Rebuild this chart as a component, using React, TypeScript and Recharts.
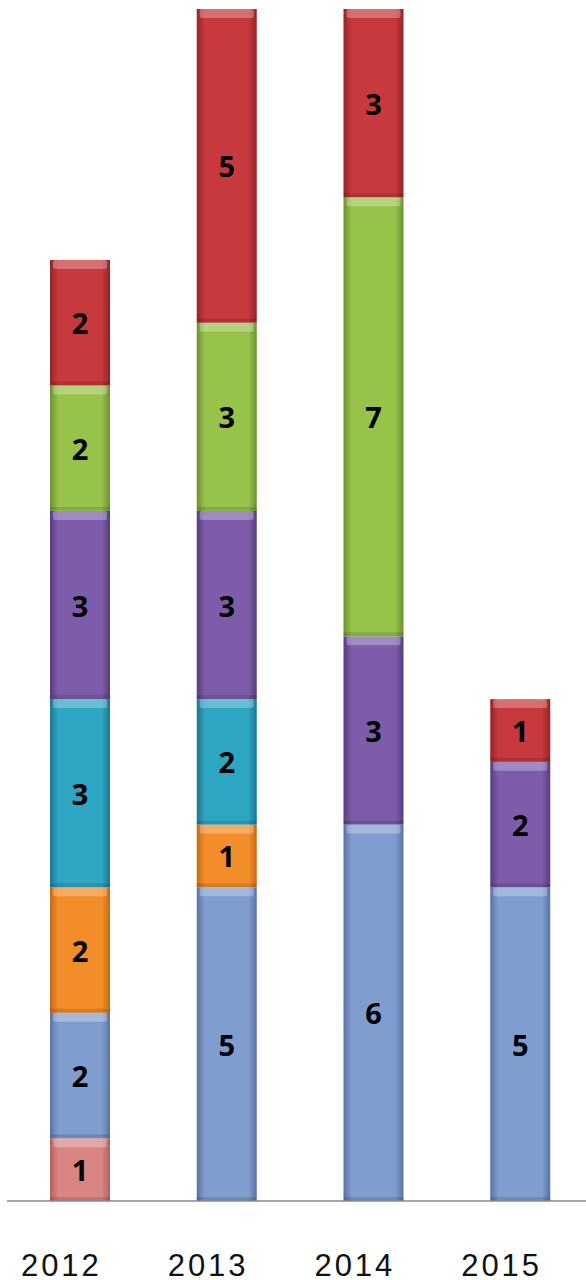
import { BarChart, Bar, XAxis, YAxis, LabelList } from "recharts";

const years = ["2012", "2013", "2014", "2015"];
const pinkValues = [1, null, null, null];
const blueValues = [2, 5, 6, 5];
const orangeValues = [2, 1, null, null];
const tealValues = [3, 2, null, null];
const purpleValues = [3, 3, 3, 2];
const greenValues = [2, 3, 7, null];
const redValues = [2, 5, 3, 1];

const series = [
  { key: "pink", base: "#d98583", dark: "#b5605f" },
  { key: "blue", base: "#809dd0", dark: "#5a73a3" },
  { key: "orange", base: "#f38d2a", dark: "#c86a14" },
  { key: "teal", base: "#2fa5c4", dark: "#1d7791" },
  { key: "purple", base: "#7d5daa", dark: "#573d80" },
  { key: "green", base: "#97c34b", dark: "#6c9230" },
  { key: "red", base: "#c7393c", dark: "#952426" },
];

const data = years.map((year, i) => ({
  year,
  pink: pinkValues[i],
  blue: blueValues[i],
  orange: orangeValues[i],
  teal: tealValues[i],
  purple: purpleValues[i],
  green: greenValues[i],
  red: redValues[i],
}));

const GlossBar = (props: any) => {
  const { x, y, width, height, fill } = props;
  if (!height || height <= 0) return null;
  const top = Math.min(9, height / 3);
  return (
    <g>
      <rect x={x} y={y} width={width} height={height} fill={fill} />
      <rect x={x + 3} y={y} width={width - 6} height={top} fill="#ffffff" fillOpacity={0.28} rx={2} />
      <rect x={x} y={y + height - 4} width={width} height={4} fill="#000000" fillOpacity={0.12} />
    </g>
  );
};

const ValueLabel = (props: any) => {
  const { x, y, width, height, value } = props;
  if (value == null || !height) return null;
  return (
    <text
      x={x + width / 2}
      y={y + height / 2}
      textAnchor="middle"
      dominantBaseline="central"
      fontFamily="'Open Sans', sans-serif"
      fontWeight={700}
      fontSize={29}
      fill="#000"
    >
      {value}
    </text>
  );
};

// the year labels sit a little left of the bar centres in the original
const YearTick = (props: any) => {
  const { x, payload } = props;
  return (
    <text
      x={x - 19}
      y={1276}
      textAnchor="middle"
      fontFamily="'Liberation Sans', Arial, sans-serif"
      fontSize={31}
      letterSpacing={3}
      fill="#111"
    >
      {payload.value}
    </text>
  );
};

export default function App() {
  return (
    <div style={{ position: "fixed", top: 0, left: 0, width: 586, height: 1280, overflow: "hidden", background: "#fff" }}>
      <BarChart
        width={600}
        height={1280}
        data={data}
        margin={{ top: 9, right: 6, left: 7, bottom: 19 }}
        barSize={60}
      >
        <defs>
          {series.map((s) => (
            <linearGradient key={s.key} id={`g-${s.key}`} x1="0" y1="0" x2="1" y2="0">
              <stop offset="0%" stopColor={s.dark} />
              <stop offset="14%" stopColor={s.base} />
              <stop offset="86%" stopColor={s.base} />
              <stop offset="100%" stopColor={s.dark} />
            </linearGradient>
          ))}
        </defs>
        <XAxis
          dataKey="year"
          height={60}
          axisLine={{ stroke: "#8a8a8a", strokeWidth: 1.5 }}
          tickLine={false}
          tick={<YearTick />}
          interval={0}
        />
        <YAxis hide domain={[0, 19]} />
        {series.map((s) => (
          <Bar
            key={s.key}
            dataKey={s.key}
            stackId="a"
            fill={`url(#g-${s.key})`}
            shape={<GlossBar />}
            isAnimationActive={false}
          >
            <LabelList dataKey={s.key} content={<ValueLabel />} />
          </Bar>
        ))}
      </BarChart>
    </div>
  );
}
